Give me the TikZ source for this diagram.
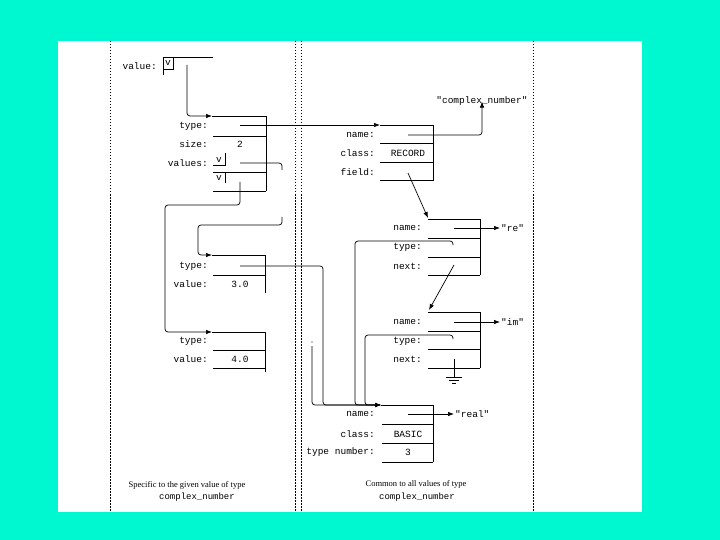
\documentclass[tikz,border=0pt]{standalone}
\usepackage{fontspec}
\setmainfont{Liberation Serif}
\setmonofont{Liberation Mono}
\usepackage{tikz}
\usetikzlibrary{arrows.meta, positioning, calc}

\definecolor{bgcyan}{RGB}{0,248,208}
\newcommand{\cellfont}{\ttfamily\fontsize{9.5}{10}\selectfont}
\newcommand{\capfont}{\fontsize{8.5}{9}\selectfont}

\begin{document}
\begin{tikzpicture}[
        x=1pt, y=-1pt,
        rec/.style={line width=0.7pt},
        lbl/.style={font=\cellfont, anchor=east, inner sep=0pt},
        val/.style={font=\cellfont, inner sep=0pt},
        str/.style={font=\cellfont, anchor=west, inner sep=1pt},
        ptr/.style={-{Latex[length=6pt,width=4.5pt]}, line width=0.7pt, rounded corners=3pt},
        sep/.style={dash pattern=on 1.5pt off 1.5pt, line width=0.6pt},
        capt/.style={font=\capfont, inner sep=0pt}
    ]
        % Page and Background
        \useasboundingbox (0,0) rectangle (720,540);
        \fill[bgcyan] (0,0) rectangle (720,540);
        \fill[white] (58,41) rectangle (642,512);

        % Dividers
        \draw[sep] (110,41) -- (110,512);
        \draw[sep] (295,41) -- (295,512);
        \draw[sep] (301,41) -- (301,512);
        \draw[sep] (533,41) -- (533,512);

        % Value slot
        \node[lbl] (valuelbl) at (157,66) {value:};
        \draw[rec] (163,57) rectangle (173,69);
        \draw[rec] (173,57) -- (213,57);
        \draw[rec] (163,69) -- (163,75);
        \node[val] (vtop) at (168,63) {v};
        \coordinate (vtopp) at (187,65);

        % Record of the value
        \coordinate (cplx) at (212,116);
        \draw[rec] (212,116) -- (266,116) -- (266,191);
        \foreach \y in {136,172,191}
            \draw[rec] (213,\y) -- (266,\y);
        \node[lbl] (c1typelbl) at (208,126) {type:};
        \node[lbl] (c1sizelbl) at (208,144) {size:};
        \node[lbl] (c1valslbl) at (208,163) {values:};
        \node[val] (c1size) at (240,144) {2};
        \node[val] (c1v1) at (219,160) {v};
        \draw[rec] (225,153) -- (225,165) -- (213,165);
        \node[val] (c1v2) at (219,178) {v};
        \draw[rec] (225,172) -- (225,183);
        \coordinate (c1type) at (240,125);
        \coordinate (c1vals) at (240,163);
        \coordinate (c1next) at (240,182);

        % Record 3.0
        \coordinate (rec2) at (212,255);
        \draw[rec] (212,255) -- (265,255) -- (265,293);
        \draw[rec] (213,275) -- (265,275);
        \node[lbl] (c2typelbl) at (208,266) {type:};
        \node[lbl] (c2vallbl) at (208,284) {value:};
        \node[val] (c2val) at (240,284) {3.0};
        \coordinate (c2type) at (240,266);

        % Record 4.0
        \coordinate (rec3) at (212,332);
        \draw[rec] (212,332) -- (265,332) -- (265,372);
        \foreach \y in {350,368}
            \draw[rec] (213,\y) -- (265,\y);
        \node[lbl] (c3typelbl) at (208,341) {type:};
        \node[lbl] (c3vallbl) at (208,359) {value:};
        \node[val] (c3val) at (240,359) {4.0};
        \coordinate (c3type) at (312,342);

        % Descriptor RECORD
        \coordinate (recd) at (380,125);
        \draw[rec] (380,125) -- (433,125) -- (433,181);
        \foreach \y in {143,162,180}
            \draw[rec] (380,\y) -- (433,\y);
        \node[lbl] (d1namelbl) at (375,135) {name:};
        \node[lbl] (d1classlbl) at (375,153) {class:};
        \node[lbl] (d1fieldlbl) at (375,172) {field:};
        \node[val] (d1class) at (408,153) {RECORD};
        \node[val] (cplxstr) at (482,101) {"complex\_number"};
        \coordinate (d1name) at (408,135);
        \coordinate (d1field) at (408,173);

        % Field re
        \coordinate (fre) at (428,218);
        \draw[rec] (428,219) -- (480,219) -- (480,275);
        \foreach \y in {238,257,275}
            \draw[rec] (428,\y) -- (480,\y);
        \node[lbl] (f1namelbl) at (422,228) {name:};
        \node[lbl] (f1typelbl) at (422,247) {type:};
        \node[lbl] (f1nextlbl) at (422,266) {next:};
        \node[str] (restr) at (500,228) {"re"};
        \coordinate (f1name) at (454,228);
        \coordinate (f1type) at (453,245);
        \coordinate (f1next) at (454,265);

        % Field im
        \coordinate (fim) at (429,310);
        \draw[rec] (428,312) -- (480,312) -- (480,368);
        \foreach \y in {331,349,368}
            \draw[rec] (428,\y) -- (480,\y);
        \node[lbl] (f2namelbl) at (422,322) {name:};
        \node[lbl] (f2typelbl) at (422,341) {type:};
        \node[lbl] (f2nextlbl) at (422,359) {next:};
        \node[str] (imstr) at (500,322) {"im"};
        \coordinate (f2name) at (454,322);
        \coordinate (f2type) at (453,339);
        \coordinate (f2next) at (454,359);

        % Descriptor real
        \coordinate (real) at (381,405);
        \draw[rec] (381,405) -- (433,405) -- (433,462);
        \foreach \y in {424,443,462}
            \draw[rec] (382,\y) -- (433,\y);
        \node[lbl] (d2namelbl) at (375,414) {name:};
        \node[lbl] (d2classlbl) at (375,434) {class:};
        \node[lbl] (d2numlbl) at (375,452) {type number:};
        \node[val] (d2class) at (408,434) {BASIC};
        \node[val] (d2num) at (408,452) {3};
        \node[str] (realstr) at (454,414) {"real"};
        \coordinate (d2name) at (408,414);

        % Pointers in the value
        \draw[ptr] (vtopp) |- (cplx);
        \draw[ptr] (c1type) -- (recd);
        \draw[ptr] (c1vals) -- (282,163) -- (282,170) (282,217) -- (282,225) -- (198,225) -- (198,255) -- (rec2);
        \draw[ptr] (c1next) -- (240,205) -- (165,205) -- (165,332) -- (rec3);

        % Pointers to the type descriptors
        \draw[ptr] (c2type) -- (323,266) -- (323,405) -- (real);
        \fill (c3type) circle (0.7);
        \draw[ptr] ($(c3type)+(0,4)$) -- (312,405) -- (real);
        \draw[ptr] (f1type) -- (453,241) -- (355,241) -- (355,405) -- (real);
        \draw[ptr] (f2type) -- (453,335) -- (365,335) -- (365,405) -- (real);

        % Pointers in the descriptors
        \draw[ptr] (d1name) -| ($(cplxstr.south)+(0,-4)$);
        \draw[ptr] (d1field) -- (fre);
        \draw[ptr] (f1name) -- (restr.west);
        \draw[ptr] (f1next) -- (fim);
        \draw[ptr] (f2name) -- (imstr.west);
        \draw[ptr] (d2name) -- (realstr.west);

        % Ground
        \draw[rec] (f2next) -- (454,377);
        \draw[rec] (446,377) -- (462,377);
        \draw[rec] (449,380) -- (459,380);
        \draw[rec] (452,383) -- (456,383);

        % Captions
        \node[capt] (capl1) at (187,485) {Specific to the given value of type};
        \node[capt, font=\ttfamily\fontsize{9}{10}\selectfont] (capl2) at (197,497) {complex\_number};
        \node[capt] (capr1) at (416,484) {Common to all values of type};
        \node[capt, font=\ttfamily\fontsize{9}{10}\selectfont] (capr2) at (417,497) {complex\_number};

    \end{tikzpicture}
\end{document}
